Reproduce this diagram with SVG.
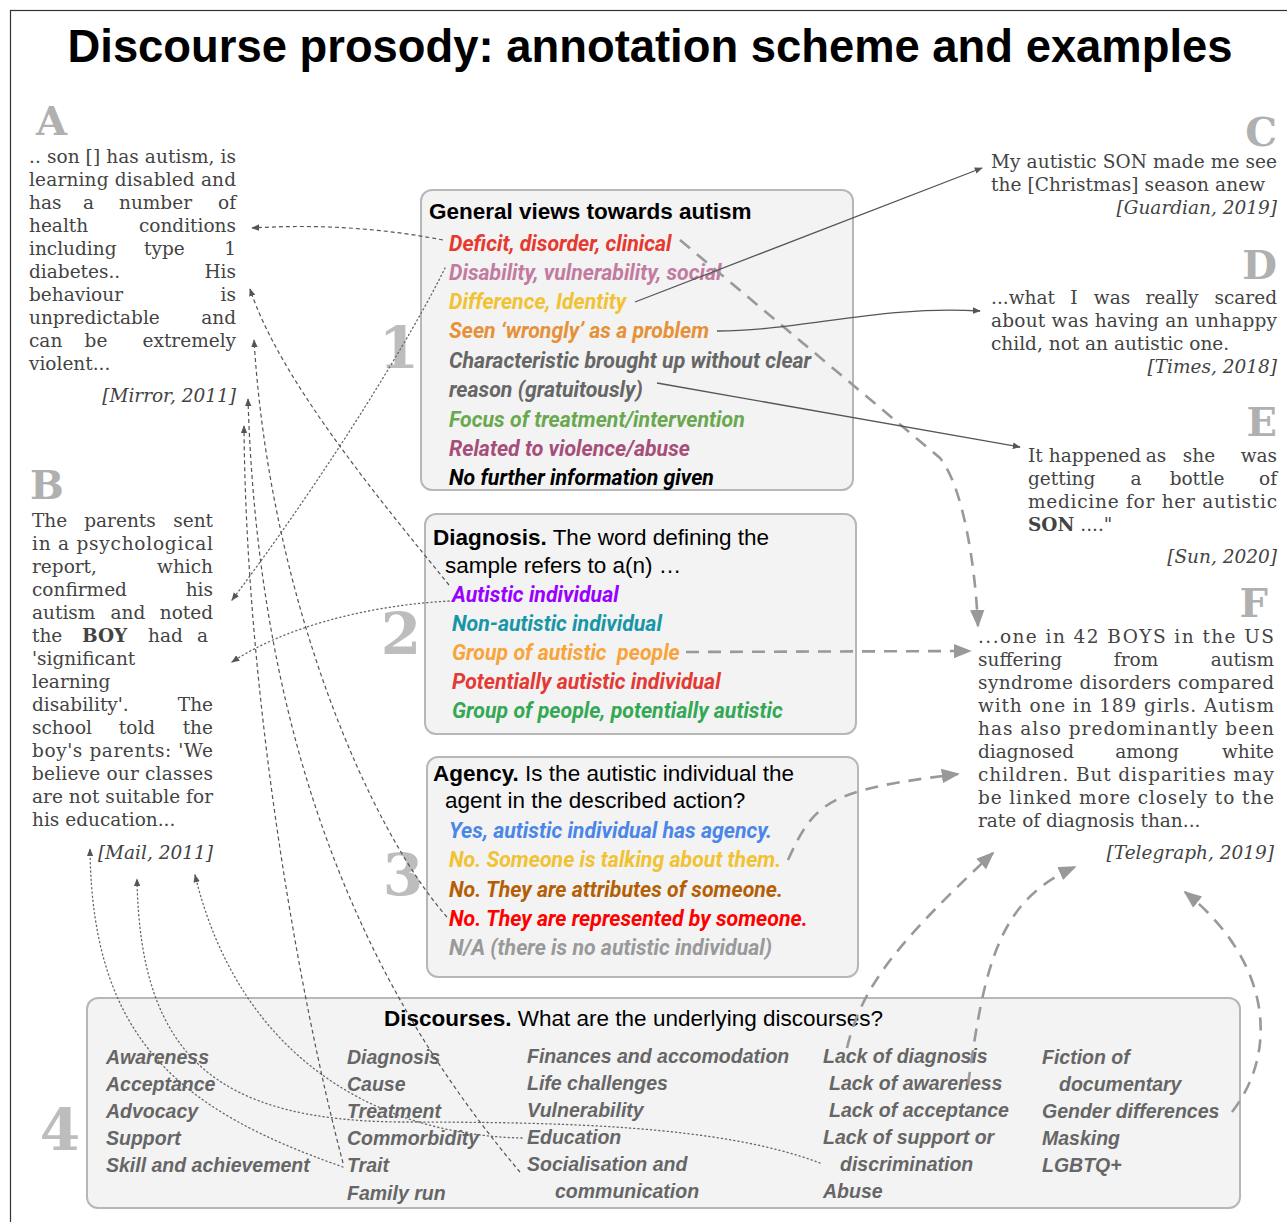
<svg xmlns="http://www.w3.org/2000/svg" width="1287" height="1222" viewBox="0 0 1287 1222">
<style>
.frame{fill:none;stroke:#333;stroke-width:1.2}
.box{fill:#f3f3f3;stroke:#b7b7b7;stroke-width:2}
.ttl{font-family:"Liberation Sans",Arial,sans-serif;font-size:22.5px;fill:#000}
.b{font-weight:bold}
.it{font-family:Roboto,"Liberation Sans",sans-serif;font-size:21.3px;font-weight:bold;font-style:italic}
.d4{font-family:"Liberation Sans",Arial,sans-serif;font-size:19.5px;font-weight:bold;font-style:italic;fill:#666}
.num{font-family:"DejaVu Serif",serif;font-size:58px;font-weight:bold;fill:#bdbdbd;text-anchor:middle}
.let{font-family:"DejaVu Serif",serif;font-size:40px;font-weight:bold;fill:#b0b0b0}
.ex{font-family:"DejaVu Serif",serif;font-size:18.5px;fill:#434343}
.cite{font-style:italic;text-anchor:end}
.e{text-anchor:end}
.m{text-anchor:middle}
.thin{fill:none;stroke:#555;stroke-width:1.2;stroke-dasharray:4 3}
.dot{fill:none;stroke:#666;stroke-width:1.3;stroke-dasharray:1.2 3;stroke-linecap:round}
.sol{fill:none;stroke:#555;stroke-width:1.3}
.big{fill:none;stroke:#999;stroke-width:2.6;stroke-dasharray:13 9}
</style>
<defs>
<marker id="ah" viewBox="0 0 10 10" refX="9" refY="5" markerWidth="8" markerHeight="8" markerUnits="userSpaceOnUse" orient="auto"><path d="M0,1 L10,5 L0,9 z" fill="#555"/></marker>
<marker id="ahBig" viewBox="0 0 10 10" refX="9" refY="5" markerWidth="18" markerHeight="18" markerUnits="userSpaceOnUse" orient="auto"><path d="M0,1 L10,5 L0,9 z" fill="#999"/></marker>
</defs>
<rect width="1287" height="1222" fill="#fff"/>
<rect class="frame" x="10.5" y="10.5" width="1300" height="1300"/>
<text x="650" y="62" font-family="'Liberation Sans',Arial,sans-serif" font-size="46" font-weight="bold" text-anchor="middle" textLength="1165" lengthAdjust="spacingAndGlyphs">Discourse prosody: annotation scheme and examples</text>

<g id="box1">
<rect class="box" x="421" y="190" width="432" height="300" rx="11"/>
<text class="ttl b" x="429" y="219">General views towards autism</text>
<text class="it" x="449" y="251" fill="#e6392f">Deficit, disorder, clinical</text>
<text class="it" x="449" y="280" fill="#c27ba0">Disability, vulnerability, social</text>
<text class="it" x="449" y="309" fill="#f1c232">Difference, Identity</text>
<text class="it" x="449" y="338" fill="#e69138">Seen ‘wrongly’ as a problem</text>
<text class="it" x="449" y="368" fill="#666">Characteristic brought up without clear</text>
<text class="it" x="449" y="397" fill="#666">reason (gratuitously)</text>
<text class="it" x="449" y="427" fill="#6aa84f">Focus of treatment/intervention</text>
<text class="it" x="449" y="456" fill="#a64d79">Related to violence/abuse</text>
<text class="it" x="449" y="485" fill="#000">No further information given</text>
<text class="num" x="399" y="368">1</text>
</g>

<g id="box2">
<rect class="box" x="425" y="514" width="431" height="220" rx="11"/>
<text class="ttl" x="433" y="545"><tspan class="b">Diagnosis.</tspan> The word defining the</text>
<text class="ttl" x="445" y="573">sample refers to a(n) …</text>
<text class="it" x="452" y="602" fill="#9900ff">Autistic individual</text>
<text class="it" x="452" y="631" fill="#1896a6">Non-autistic individual</text>
<text class="it" x="452" y="660" fill="#f9a43a">Group of autistic&#160; people</text>
<text class="it" x="452" y="689" fill="#e53935">Potentially autistic individual</text>
<text class="it" x="452" y="718" fill="#34a853">Group of people, potentially autistic</text>
<text class="num" x="401" y="654">2</text>
</g>

<g id="box3">
<rect class="box" x="427" y="757" width="431" height="220" rx="11"/>
<text class="ttl" x="433" y="781"><tspan class="b">Agency.</tspan> Is the autistic individual the</text>
<text class="ttl" x="445" y="808">agent in the described action?</text>
<text class="it" x="449" y="838" fill="#4a86e8">Yes, autistic individual has agency.</text>
<text class="it" x="449" y="867" fill="#f1c232">No. Someone is talking about them.</text>
<text class="it" x="449" y="897" fill="#b45f06">No. They are attributes of someone.</text>
<text class="it" x="449" y="926" fill="#ff0000">No. They are represented by someone.</text>
<text class="it" x="449" y="955" fill="#999">N/A (there is no autistic individual)</text>
<text class="num" x="403" y="895">3</text>
</g>

<g id="box4">
<rect class="box" x="87" y="998" width="1153" height="210" rx="11"/>
<text class="ttl" x="384" y="1026"><tspan class="b">Discourses.</tspan> What are the underlying discourses?</text>
<text class="d4" x="106" y="1064">Awareness</text>
<text class="d4" x="106" y="1091">Acceptance</text>
<text class="d4" x="106" y="1118">Advocacy</text>
<text class="d4" x="106" y="1145">Support</text>
<text class="d4" x="106" y="1172">Skill and achievement</text>
<text class="d4" x="347" y="1064">Diagnosis</text>
<text class="d4" x="347" y="1091">Cause</text>
<text class="d4" x="347" y="1118">Treatment</text>
<text class="d4" x="347" y="1145">Commorbidity</text>
<text class="d4" x="347" y="1172">Trait</text>
<text class="d4" x="347" y="1200">Family run</text>
<text class="d4" x="527" y="1063">Finances and accomodation</text>
<text class="d4" x="527" y="1090">Life challenges</text>
<text class="d4" x="527" y="1117">Vulnerability</text>
<text class="d4" x="527" y="1144">Education</text>
<text class="d4" x="527" y="1171">Socialisation and</text>
<text class="d4" x="555" y="1198">communication</text>
<text class="d4" x="823" y="1063">Lack of diagnosis</text>
<text class="d4" x="829" y="1090">Lack of awareness</text>
<text class="d4" x="829" y="1117">Lack of acceptance</text>
<text class="d4" x="823" y="1144">Lack of support or</text>
<text class="d4" x="840" y="1171">discrimination</text>
<text class="d4" x="823" y="1198">Abuse</text>
<text class="d4" x="1042" y="1064">Fiction of</text>
<text class="d4" x="1059" y="1091">documentary</text>
<text class="d4" x="1042" y="1118">Gender differences</text>
<text class="d4" x="1042" y="1145">Masking</text>
<text class="d4" x="1042" y="1172">LGBTQ+</text>
<text class="num" x="60" y="1150">4</text>
</g>

<g id="exampleA">
<text class="let" x="36" y="135">A</text>
<text class="ex" x="29" y="163" textLength="207" lengthAdjust="spacing">.. son [] has autism, is</text>
<text class="ex" x="29" y="186" textLength="207" lengthAdjust="spacing">learning disabled and</text>
<text class="ex" x="29" y="209">has</text><text class="ex" x="83" y="209">a</text><text class="ex" x="119" y="209">number</text><text class="ex e" x="236" y="209">of</text>
<text class="ex" x="29" y="232">health</text><text class="ex e" x="236" y="232">conditions</text>
<text class="ex" x="29" y="255">including</text><text class="ex" x="144" y="255">type</text><text class="ex e" x="236" y="255">1</text>
<text class="ex" x="29" y="278">diabetes..</text><text class="ex e" x="236" y="278">His</text>
<text class="ex" x="29" y="301">behaviour</text><text class="ex e" x="236" y="301">is</text>
<text class="ex" x="29" y="324">unpredictable</text><text class="ex e" x="236" y="324">and</text>
<text class="ex" x="29" y="347">can</text><text class="ex m" x="96" y="347">be</text><text class="ex e" x="236" y="347">extremely</text>
<text class="ex" x="29" y="370">violent...</text>
<text class="ex cite" x="236" y="402">[Mirror, 2011]</text>
</g>

<g id="exampleB">
<text class="let" x="30" y="499">B</text>
<text class="ex" x="32" y="527">The</text><text class="ex m" x="120" y="527">parents</text><text class="ex e" x="213" y="527">sent</text>
<text class="ex" x="32" y="550" textLength="181" lengthAdjust="spacing">in a psychological</text>
<text class="ex" x="32" y="573">report,</text><text class="ex e" x="213" y="573">which</text>
<text class="ex" x="32" y="596">confirmed</text><text class="ex e" x="213" y="596">his</text>
<text class="ex" x="32" y="619">autism</text><text class="ex m" x="128" y="619">and</text><text class="ex e" x="213" y="619">noted</text>
<text class="ex" x="32" y="642">the</text><text class="ex b" x="82" y="642">BOY</text><text class="ex" x="148" y="642">had</text><text class="ex e" x="208" y="642">a</text>
<text class="ex" x="32" y="665">'significant</text>
<text class="ex" x="32" y="688">learning</text>
<text class="ex" x="32" y="711">disability'.</text><text class="ex e" x="213" y="711">The</text>
<text class="ex" x="32" y="734">school</text><text class="ex m" x="137" y="734">told</text><text class="ex e" x="213" y="734">the</text>
<text class="ex" x="32" y="757" textLength="181" lengthAdjust="spacing">boy's parents: 'We</text>
<text class="ex" x="32" y="780" textLength="181" lengthAdjust="spacing">believe our classes</text>
<text class="ex" x="32" y="803" textLength="181" lengthAdjust="spacing">are not suitable for</text>
<text class="ex" x="32" y="826">his education...</text>
<text class="ex cite" x="213" y="859">[Mail, 2011]</text>
</g>

<g id="exampleC">
<text class="let e" x="1277" y="146">C</text>
<text class="ex" x="991" y="168" textLength="286" lengthAdjust="spacing">My autistic SON made me see</text>
<text class="ex" x="991" y="191" textLength="274" lengthAdjust="spacing">the [Christmas] season anew</text>
<text class="ex cite" x="1277" y="214">[Guardian, 2019]</text>
</g>

<g id="exampleD">
<text class="let e" x="1277" y="279">D</text>
<text class="ex" x="991" y="304">...what</text><text class="ex m" x="1074" y="304">I</text><text class="ex m" x="1112" y="304">was</text><text class="ex m" x="1172" y="304">really</text><text class="ex e" x="1277" y="304">scared</text>
<text class="ex" x="991" y="327" textLength="286" lengthAdjust="spacing">about was having an unhappy</text>
<text class="ex" x="991" y="350">child, not an autistic one.</text>
<text class="ex cite" x="1277" y="373">[Times, 2018]</text>
</g>

<g id="exampleE">
<text class="let e" x="1277" y="436">E</text>
<text class="ex" x="1028" y="462">It</text><text class="ex m" x="1095" y="462">happened</text><text class="ex m" x="1156" y="462">as</text><text class="ex m" x="1199" y="462">she</text><text class="ex e" x="1277" y="462">was</text>
<text class="ex" x="1028" y="485">getting</text><text class="ex m" x="1136" y="485">a</text><text class="ex m" x="1197" y="485">bottle</text><text class="ex e" x="1277" y="485">of</text>
<text class="ex" x="1028" y="508" textLength="249" lengthAdjust="spacing">medicine for her autistic</text>
<text class="ex" x="1028" y="531"><tspan class="b">SON</tspan> ...."</text>
<text class="ex cite" x="1277" y="563">[Sun, 2020]</text>
</g>

<g id="exampleF">
<text class="let e" x="1268" y="617">F</text>
<text class="ex" x="978" y="643" textLength="296" lengthAdjust="spacing">...one in 42 BOYS in the US</text>
<text class="ex" x="978" y="666">suffering</text><text class="ex m" x="1136" y="666">from</text><text class="ex e" x="1274" y="666">autism</text>
<text class="ex" x="978" y="689" textLength="296" lengthAdjust="spacing">syndrome disorders compared</text>
<text class="ex" x="978" y="712" textLength="296" lengthAdjust="spacing">with one in 189 girls. Autism</text>
<text class="ex" x="978" y="735" textLength="296" lengthAdjust="spacing">has also predominantly been</text>
<text class="ex" x="978" y="758">diagnosed</text><text class="ex m" x="1147" y="758">among</text><text class="ex e" x="1274" y="758">white</text>
<text class="ex" x="978" y="781" textLength="296" lengthAdjust="spacing">children. But disparities may</text>
<text class="ex" x="978" y="804" textLength="296" lengthAdjust="spacing">be linked more closely to the</text>
<text class="ex" x="978" y="827">rate of diagnosis than...</text>
<text class="ex cite" x="1274" y="859">[Telegraph, 2019]</text>
</g>

<g id="connectors">
<path class="thin" d="M443,240 Q350,222 252,228" marker-end="url(#ah)"/>
<path class="big" d="M680,240 L940,458 C962,485 975,560 978,626" marker-end="url(#ahBig)"/>
<path class="dot" d="M445,268 C415,330 330,470 232,600" marker-end="url(#ah)"/>
<path class="sol" d="M635,302 L982,168" marker-end="url(#ah)"/>
<path class="sol" d="M717,331 C800,331 880,305 980,311" marker-end="url(#ah)"/>
<path class="sol" d="M657,383 L1020,447" marker-end="url(#ah)"/>
<path class="thin" d="M449,585 C380,500 280,380 250,289" marker-end="url(#ah)"/>
<path class="dot" d="M449,601 C360,606 280,630 232,662" marker-end="url(#ah)"/>
<path class="big" d="M686,652 L970,651" marker-end="url(#ahBig)"/>
<path class="big" d="M788,860 C815,800 830,790 958,774" marker-end="url(#ahBig)"/>
<path class="thin" d="M447,917 C370,830 270,600 254,340" marker-end="url(#ah)"/>
<path class="thin" d="M520,1172 C400,1030 260,800 248,399" marker-end="url(#ah)"/>
<path class="thin" d="M343,1163 C300,1000 246,700 244,426" marker-end="url(#ah)"/>
<path class="dot" d="M343,1167 C180,1110 92,1040 90,849" marker-end="url(#ah)"/>
<path class="dot" d="M820,1163 C720,1125 560,1122 400,1122 C220,1120 140,1060 137,879" marker-end="url(#ah)"/>
<path class="dot" d="M522,1138 C380,1135 240,1060 195,875" marker-end="url(#ah)"/>
<path class="big" d="M847,1048 C862,985 900,940 993,853" marker-end="url(#ahBig)"/>
<path class="big" d="M968,1085 C985,960 1000,900 1075,867" marker-end="url(#ahBig)"/>
<path class="big" d="M1232,1112 C1280,1050 1270,960 1185,892" marker-end="url(#ahBig)"/>
</g>
</svg>
